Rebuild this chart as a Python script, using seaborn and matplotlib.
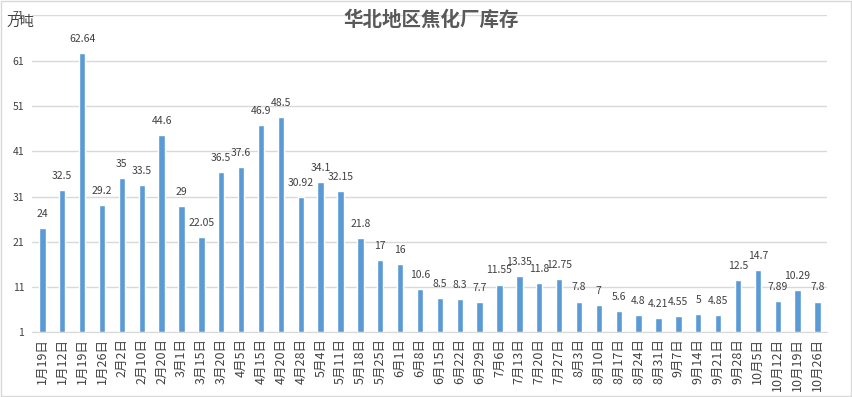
import matplotlib
matplotlib.use('Agg')
import numpy as np
import pandas as pd
import seaborn as sns
import matplotlib.pyplot as plt

bar_color = '#5B9BD5'
text_color = '#404040'
grid_color = '#D9D9D9'

dates = ['1月19日', '1月12日', '1月19日', '1月26日', '2月2日', '2月10日', '2月20日', '3月1日',
         '3月15日', '3月20日', '4月5日', '4月15日', '4月20日', '4月28日', '5月4日', '5月11日',
         '5月18日', '5月25日', '6月1日', '6月8日', '6月15日', '6月22日', '6月29日', '7月6日',
         '7月13日', '7月20日', '7月27日', '8月3日', '8月10日', '8月17日', '8月24日', '8月31日',
         '9月7日', '9月14日', '9月21日', '9月28日', '10月5日', '10月12日', '10月19日', '10月26日']
stock = [24, 32.5, 62.64, 29.2, 35, 33.5, 44.6, 29, 22.05, 36.5,
         37.6, 46.9, 48.5, 30.92, 34.1, 32.15, 21.8, 17, 16, 10.6,
         8.5, 8.3, 7.7, 11.55, 13.35, 11.8, 12.75, 7.8, 7, 5.6,
         4.8, 4.21, 4.55, 5, 4.85, 12.5, 14.7, 7.89, 10.29, 7.8]
stock_labels = ['24', '32.5', '62.64', '29.2', '35', '33.5', '44.6', '29', '22.05', '36.5',
                '37.6', '46.9', '48.5', '30.92', '34.1', '32.15', '21.8', '17', '16', '10.6',
                '8.5', '8.3', '7.7', '11.55', '13.35', '11.8', '12.75', '7.8', '7', '5.6',
                '4.8', '4.21', '4.55', '5', '4.85', '12.5', '14.7', '7.89', '10.29', '7.8']
yticks = [1, 11, 21, 31, 41, 51, 61, 71]

sns.set_style('white')
plt.rcParams['font.family'] = ['Noto Sans CJK SC', 'DejaVu Sans']

df = pd.DataFrame({'pos': np.arange(len(dates)), 'stock': stock})

fig = plt.figure(figsize=(8.53, 3.97), dpi=100)
ax = fig.add_axes([0.038, 0.163, 0.932, 0.798])
base = 1
# bars start at the axis floor (1), like the excel chart
sns.barplot(data=df, x='pos', y='stock', color=bar_color, width=0.32,
            saturation=1, ax=ax, zorder=3)
for p in ax.patches:
    p.set_y(base)
    p.set_height(p.get_height() - base)

for i, (v, lab) in enumerate(zip(stock, stock_labels)):
    ax.text(i, v + 2.0, lab, ha='center', va='bottom', fontsize=7.5,
            color=text_color, zorder=4)

ax.set_ylim(1, 71)
ax.set_xlim(-0.5, len(dates) - 0.5)
ax.set_yticks(yticks)
ax.set_yticklabels([str(t) for t in yticks], fontsize=7.5, color=text_color)
ax.yaxis.grid(True, color=grid_color, linewidth=1, zorder=0)
ax.set_xticks(np.arange(len(dates)))
ax.set_xticklabels(dates, rotation=90, fontsize=9, color=text_color)
ax.tick_params(axis='x', length=0, pad=4)
ax.tick_params(axis='y', length=0, pad=6)
# category boundary tick marks
ax.set_xticks(np.arange(len(dates) + 1) - 0.5, minor=True)
ax.tick_params(axis='x', which='minor', length=4, color=grid_color, width=1)
ax.set_xlabel('')
ax.set_ylabel('')
for s in ['top', 'right', 'left']:
    ax.spines[s].set_visible(False)
ax.spines['bottom'].set_color(grid_color)

fig.text(0.008, 0.945, '万吨', fontsize=10, color=text_color, ha='left', va='center')
fig.text(0.505, 0.95, '华北地区焦化厂库存', fontsize=14, fontweight='bold',
         color='#595959', ha='center', va='center')

border = plt.Rectangle((0.001, 0.002), 0.997, 0.995, transform=fig.transFigure,
                       fill=False, edgecolor='#D9D9D9', linewidth=1)
fig.patches.append(border)

fig.savefig('out.png', dpi=100)
